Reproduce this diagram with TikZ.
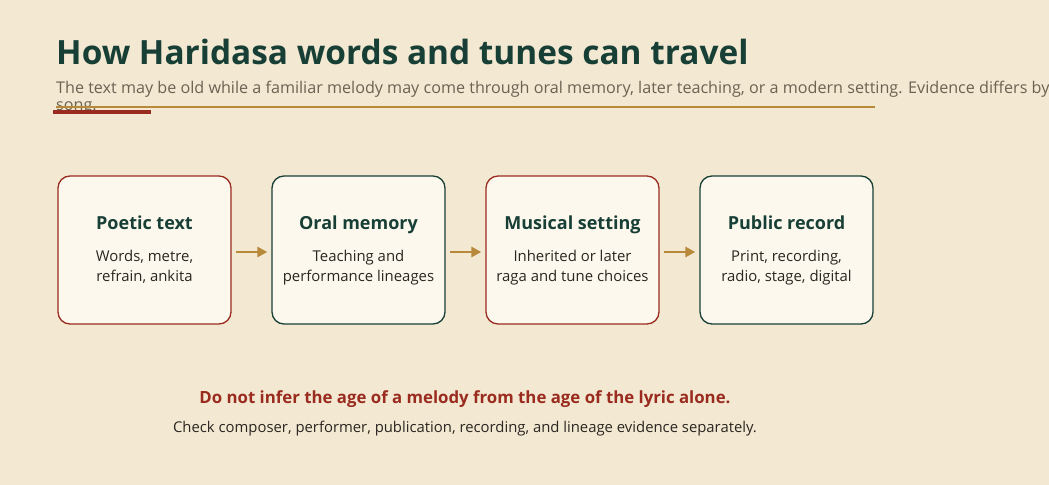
\documentclass[tikz,border=0pt]{standalone}
\usepackage{fontspec}
\setmainfont{Open Sans}
\usepackage{xcolor}
\usetikzlibrary{arrows.meta,positioning}

\definecolor{paper}{HTML}{F3E8D2}
\definecolor{cardfill}{HTML}{FDF8EE}
\definecolor{deepgreen}{HTML}{173F35}
\definecolor{rust}{HTML}{9A2B1F}
\definecolor{ochre}{HTML}{B8893A}
\definecolor{greytext}{HTML}{6B6252}
\definecolor{inktext}{HTML}{2B2620}

\newcommand{\headfont}{\bfseries\fontsize{18bp}{20bp}\selectfont\color{deepgreen}}
\newcommand{\bodyfont}{\fontsize{14.9bp}{20bp}\selectfont}

\begin{document}
\begin{tikzpicture}[x=1bp,y=-1bp,
  stagebox/.style={rectangle, rounded corners=12bp, fill=cardfill, line width=1.3bp, minimum width=173bp, minimum height=148bp, align=center, inner sep=0pt, font=\bodyfont, text=inktext},
  flowarrow/.style={draw=ochre, line width=2.6bp, -{Triangle[length=10bp,width=10bp]}, shorten <=4bp, shorten >=4bp}]

\fill[paper] (0,0) rectangle (1049,485);
\useasboundingbox (0,0) rectangle (1049,485);

\node[anchor=base west, inner sep=0pt, font=\bfseries\fontsize{33.4bp}{38bp}\selectfont, text=deepgreen](title) at (56,65){How Haridasa words and tunes can travel};
\node[anchor=base west, inner sep=0pt, align=left, font=\fontsize{16.15bp}{16.8bp}\selectfont, text=greytext](subtitle) at (56,110.5){The text may be old while a familiar melody may come through oral memory, later teaching, or a modern setting. Evidence differs by\\song.};

\draw[ochre, line width=2bp] (56,107) -- (875,107);
\fill[rust] (53,110) rectangle (151,114);

\node[stagebox, draw=rust](stage1) at (144.5,250){{\headfont Poetic text}\\[12bp]Words, metre,\\refrain, ankita};
\node[stagebox, draw=deepgreen, right=39.7bp of stage1](stage2){{\headfont Oral memory}\\[12bp]Teaching and\\performance lineages};
\node[stagebox, draw=rust, right=39.7bp of stage2](stage3){{\headfont Musical setting}\\[12bp]Inherited or later\\raga and tune choices};
\node[stagebox, draw=deepgreen, right=39.7bp of stage3](stage4){{\headfont Public record}\\[12bp]Print, recording,\\radio, stage, digital};

\draw[flowarrow] ([yshift=-2bp]stage1.east) -- ([yshift=-2bp]stage2.west);
\draw[flowarrow] ([yshift=-2bp]stage2.east) -- ([yshift=-2bp]stage3.west);
\draw[flowarrow] ([yshift=-2bp]stage3.east) -- ([yshift=-2bp]stage4.west);

\node[anchor=base, inner sep=0pt, font=\bfseries\fontsize{16.8bp}{18bp}\selectfont, text=rust](warning) at (465,403){Do not infer the age of a melody from the age of the lyric alone.};
\node[anchor=base, inner sep=0pt, font=\fontsize{14.85bp}{18bp}\selectfont, text=inktext](advice) at (465,432){Check composer, performer, publication, recording, and lineage evidence separately.};

\end{tikzpicture}
\end{document}
